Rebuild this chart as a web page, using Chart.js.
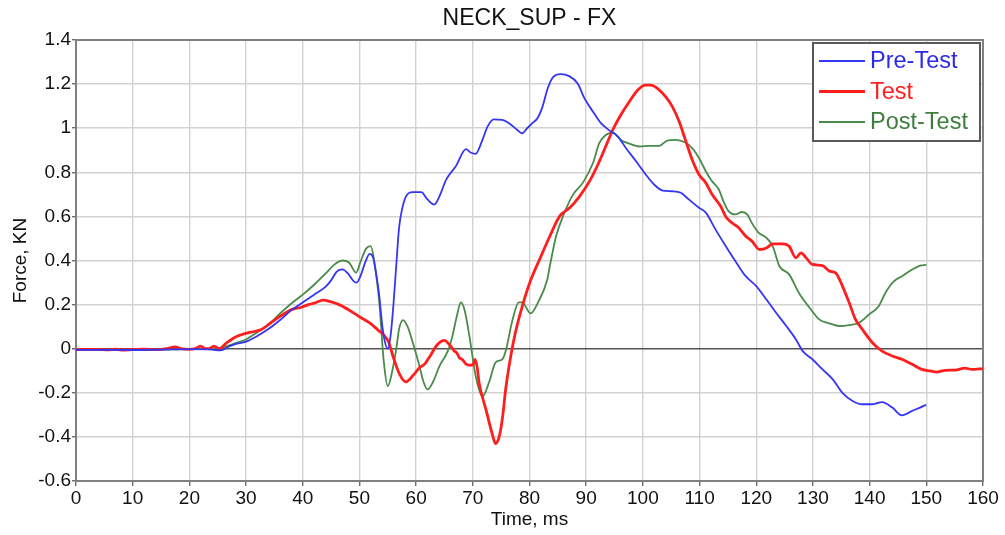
<!DOCTYPE html>
<html>
<head>
<meta charset="utf-8">
<title>NECK_SUP - FX</title>
<script src="https://cdn.jsdelivr.net/npm/chart.js@4/dist/chart.umd.min.js"></script>
<style>
  html, body { margin: 0; padding: 0; background: #ffffff; }
  #wrap { width: 1005px; height: 535px; position: relative; }
</style>
</head>
<body>
<div id="wrap"><canvas id="chart"></canvas></div>
<script>
// Upper neck shear force Fx, three runs (time in ms, force in kN)

const seriesNames = ['Pre-Test', 'Test', 'Post-Test'];

const timePre = [0, 5, 10, 15, 20, 24, 25.5, 27, 28, 30, 32, 34, 36, 38, 40, 42, 44, 45, 46, 47, 48, 49, 49.5, 50.2, 51, 51.8, 52.4, 53, 53.5, 54, 54.5, 55, 55.5, 56, 56.5, 57, 57.5, 58.2, 59.4, 60.9, 62, 63.2, 64.1, 65.3, 67, 68.8, 69.6, 70.5, 71.7, 72.6, 73.7, 75.2, 76.4, 77.8, 78.7, 79.6, 80.5, 81.4, 82.3, 83.2, 84.2, 85.5, 87, 88.5, 89.7, 91.2, 92.6, 94.1, 95.6, 97, 98.8, 100.5, 102, 103.5, 105.2, 106.7, 108.1, 109.9, 111.1, 112.8, 114.6, 116.3, 118.1, 120, 121.8, 123.5, 125.3, 127, 128.2, 129.9, 131.7, 133.5, 135.2, 137, 138.7, 140.5, 142.2, 144, 145.7, 147.5, 148.9, 150];
const forcePre = [-0.005, -0.005, -0.006, -0.004, -0.002, -0.004, -0.008, 0.01, 0.02, 0.032, 0.058, 0.09, 0.13, 0.175, 0.21, 0.245, 0.28, 0.31, 0.35, 0.36, 0.34, 0.305, 0.3, 0.33, 0.39, 0.43, 0.415, 0.33, 0.24, 0.11, 0.03, 0.0, 0.06, 0.2, 0.38, 0.55, 0.63, 0.69, 0.71, 0.71, 0.677, 0.654, 0.69, 0.767, 0.827, 0.905, 0.89, 0.884, 0.947, 1.007, 1.04, 1.038, 1.023, 0.993, 0.977, 1.0, 1.023, 1.045, 1.098, 1.18, 1.233, 1.245, 1.236, 1.203, 1.135, 1.075, 1.023, 0.99, 0.962, 0.91, 0.85, 0.79, 0.744, 0.717, 0.714, 0.707, 0.677, 0.639, 0.617, 0.541, 0.466, 0.398, 0.33, 0.284, 0.223, 0.163, 0.103, 0.042, -0.011, -0.048, -0.094, -0.139, -0.2, -0.237, -0.252, -0.252, -0.242, -0.267, -0.302, -0.282, -0.267, -0.254];

const timeTest = [0, 3, 6, 7, 8, 10, 12, 14, 16, 17.5, 18.5, 20, 21, 22, 22.8, 23.5, 24.3, 25.3, 26.5, 27.9, 29, 30.3, 31.5, 32.7, 34, 35, 36.5, 38, 39.8, 41, 42.1, 43.6, 45, 46.4, 48, 50, 51.8, 53.5, 54.2, 55.2, 55.9, 57.1, 58.2, 59.4, 60.6, 61.5, 62.3, 63.8, 65, 65.8, 66.3, 66.7, 67.2, 67.6, 68.2, 68.8, 69.6, 70.1, 70.4, 70.8, 71.1, 72.3, 73.5, 74, 74.7, 75.3, 75.8, 76.7, 77.5, 78.7, 80.2, 81.8, 83.6, 85.3, 87.1, 88.8, 90.6, 91.8, 93.2, 94.7, 96.1, 97.6, 99.1, 100.5, 101.4, 102.6, 104, 105.2, 106.4, 107.5, 108.7, 109.9, 111.1, 112.2, 113.7, 114.6, 115.7, 116.9, 118.1, 119.2, 120.6, 121.8, 122.9, 124.7, 125.8, 127, 127.9, 128.8, 129.9, 131.7, 132.9, 134, 135.2, 136.4, 137.5, 138.7, 140.5, 142.2, 144, 145.7, 147.5, 149.2, 150.7, 151.9, 153.3, 155.1, 156.8, 158, 160];
const forceTest = [-0.004, -0.003, -0.005, -0.002, -0.006, -0.004, -0.002, -0.004, 0.0, 0.008, 0.0, -0.003, 0.0, 0.012, 0.0, 0.0, 0.012, 0.0, 0.025, 0.05, 0.062, 0.072, 0.078, 0.087, 0.11, 0.13, 0.155, 0.177, 0.188, 0.2, 0.207, 0.22, 0.212, 0.2, 0.178, 0.145, 0.117, 0.08, 0.065, 0.027, -0.033, -0.116, -0.15, -0.123, -0.086, -0.07, -0.04, 0.02, 0.038, 0.02, 0.005, -0.01, -0.02, -0.04, -0.05, -0.07, -0.075, -0.07, -0.048, -0.09, -0.153, -0.274, -0.394, -0.43, -0.394, -0.3, -0.183, -0.033, 0.072, 0.19, 0.31, 0.406, 0.511, 0.6, 0.639, 0.69, 0.76, 0.82, 0.902, 0.993, 1.06, 1.12, 1.173, 1.195, 1.195, 1.18, 1.143, 1.098, 1.03, 0.947, 0.857, 0.79, 0.752, 0.7, 0.647, 0.6, 0.571, 0.549, 0.511, 0.489, 0.45, 0.457, 0.475, 0.475, 0.465, 0.412, 0.435, 0.412, 0.382, 0.377, 0.352, 0.344, 0.284, 0.208, 0.133, 0.088, 0.027, -0.011, -0.033, -0.048, -0.071, -0.094, -0.101, -0.106, -0.098, -0.097, -0.088, -0.094, -0.09];

const timePost = [0, 5, 10, 15, 20, 25, 27, 28, 30, 32, 34, 36, 38, 40, 42, 44, 45.5, 47, 48.2, 49.4, 50.2, 51.2, 52, 52.6, 53.5, 54.3, 55, 55.8, 56.5, 57, 57.7, 58.5, 59.5, 60.5, 61.3, 62, 63, 64.1, 65.6, 66.4, 67.2, 67.9, 68.6, 69.4, 70.5, 71.7, 72.9, 74, 75.2, 75.8, 77, 78.1, 78.7, 80.2, 81.6, 83.1, 83.6, 84.7, 85.9, 87.7, 89.4, 91.2, 92.3, 93.5, 94.7, 96.1, 97.6, 99.4, 101.1, 102.9, 104.3, 105.8, 107.5, 108.7, 109.9, 111.1, 112.2, 113.4, 114.3, 115.1, 116.3, 117.5, 118.4, 119.2, 120.4, 121.8, 122.9, 124.1, 125.8, 127.5, 129.4, 131.1, 132.9, 134.6, 136.4, 138.1, 139.9, 141.6, 142.8, 144.3, 145.7, 147.5, 148.9, 150];
const forcePost = [-0.004, -0.006, -0.005, -0.004, -0.002, 0.0, 0.015, 0.024, 0.042, 0.075, 0.11, 0.16, 0.205, 0.245, 0.29, 0.34, 0.38, 0.4, 0.39, 0.345, 0.395, 0.455, 0.465, 0.4, 0.21, -0.06, -0.17, -0.1, 0.0, 0.09, 0.13, 0.1, 0.02, -0.07, -0.15, -0.185, -0.15, -0.08, -0.01, 0.057, 0.15, 0.21, 0.17, 0.057, -0.123, -0.216, -0.15, -0.063, -0.048, -0.01, 0.13, 0.21, 0.21, 0.16, 0.215, 0.31, 0.376, 0.511, 0.6, 0.7, 0.752, 0.842, 0.932, 0.97, 0.98, 0.947, 0.93, 0.917, 0.92, 0.92, 0.944, 0.947, 0.935, 0.91, 0.865, 0.805, 0.759, 0.722, 0.662, 0.624, 0.609, 0.62, 0.609, 0.571, 0.526, 0.503, 0.465, 0.374, 0.337, 0.254, 0.186, 0.133, 0.115, 0.103, 0.107, 0.118, 0.155, 0.193, 0.254, 0.306, 0.329, 0.359, 0.377, 0.38];

const FONT = "'Liberation Sans', Arial, Helvetica, sans-serif";
const colors = ['#3535f5', '#ff1e1e', '#4a8a4a'];
const textColors = ['#2a2ae8', '#ff2020', '#3d7d3d'];
const widths = [1.8, 2.8, 1.8];

function points(ts, vs) {
  return ts.map((t, i) => ({ x: t, y: vs[i] }));
}

// frame around the plotting area
const frame = {
  id: 'frame',
  beforeDatasetsDraw(chart) {
    const { ctx, chartArea: a } = chart;
    ctx.save();
    ctx.strokeStyle = '#808080';
    ctx.lineWidth = 2;
    ctx.strokeRect(a.left, a.top, a.right - a.left, a.bottom - a.top);
    ctx.restore();
  }
};

// boxed legend in the upper-right corner of the plot
const boxLegend = {
  id: 'boxLegend',
  afterDatasetsDraw(chart) {
    const { ctx, chartArea: a } = chart;
    const w = 167, h = 98;
    const x0 = a.right - 3 - w, y0 = a.top + 3;
    ctx.save();
    ctx.fillStyle = '#ffffff';
    ctx.fillRect(x0, y0, w, h);
    ctx.strokeStyle = '#5a5a5a';
    ctx.lineWidth = 2;
    ctx.strokeRect(x0, y0, w, h);
    ctx.font = '23.5px ' + FONT;
    ctx.textBaseline = 'middle';
    chart.data.datasets.forEach((ds, i) => {
      const y = y0 + 18 + i * 30.5;
      ctx.strokeStyle = ds.borderColor;
      ctx.lineWidth = ds.borderWidth;
      ctx.beginPath();
      ctx.moveTo(x0 + 6, y);
      ctx.lineTo(x0 + 52, y);
      ctx.stroke();
      ctx.fillStyle = textColors[i];
      ctx.fillText(ds.label, x0 + 57, y + 1);
    });
    ctx.restore();
  }
};

const seriesData = [points(timePre, forcePre), points(timeTest, forceTest), points(timePost, forcePost)];

new Chart(document.getElementById('chart'), {
  type: 'line',
  data: {
    datasets: seriesNames.map((name, i) => ({
      label: name,
      data: seriesData[i],
      borderColor: colors[i],
      backgroundColor: colors[i],
      borderWidth: widths[i],
      pointRadius: 0,
      cubicInterpolationMode: 'monotone',
      fill: false
    }))
  },
  options: {
    responsive: true,
    maintainAspectRatio: false,
    animation: false,
    events: [],
    layout: { padding: { left: 0, right: 22, top: 0, bottom: 0 } },
    plugins: {
      legend: { display: false },
      tooltip: { enabled: false },
      title: {
        display: true,
        fullSize: false,
        text: 'NECK_SUP - FX',
        color: '#111111',
        font: { family: FONT, size: 23, weight: 'normal' },
        padding: { top: 4.5, bottom: 7.9 }
      }
    },
    scales: {
      x: {
        type: 'linear',
        min: 0,
        max: 160,
        afterFit(scale) { scale.height = 54; },
        ticks: {
          stepSize: 10,
          color: '#111111',
          font: { family: FONT, size: 19 },
          padding: 1,
          maxRotation: 0
        },
        grid: {
          color: '#d2d2d2',
          lineWidth: 1.4,
          tickLength: 5,
          tickColor: '#6a6a6a'
        },
        border: { display: true, color: '#808080', width: 2 },
        title: {
          display: true,
          text: 'Time, ms',
          color: '#111111',
          font: { family: FONT, size: 19 },
          padding: { top: 0, bottom: 4 }
        }
      },
      y: {
        min: -0.6,
        max: 1.4,
        afterFit(scale) { scale.width = 76; },
        ticks: {
          stepSize: 0.2,
          color: '#111111',
          font: { family: FONT, size: 19 },
          padding: 1,
          callback: (v) => String(parseFloat(Number(v).toFixed(1)))
        },
        grid: {
          color: (c) => (c.tick && Math.abs(c.tick.value) < 1e-9 ? '#555555' : '#d2d2d2'),
          lineWidth: (c) => (c.tick && Math.abs(c.tick.value) < 1e-9 ? 1.6 : 1.4),
          tickLength: 4,
          tickColor: '#6a6a6a'
        },
        border: { display: true, color: '#808080', width: 2 },
        title: {
          display: true,
          text: 'Force, KN',
          color: '#111111',
          font: { family: FONT, size: 19 },
          padding: { top: 9, bottom: 0 }
        }
      }
    }
  },
  plugins: [frame, boxLegend]
});
</script>
</body>
</html>
